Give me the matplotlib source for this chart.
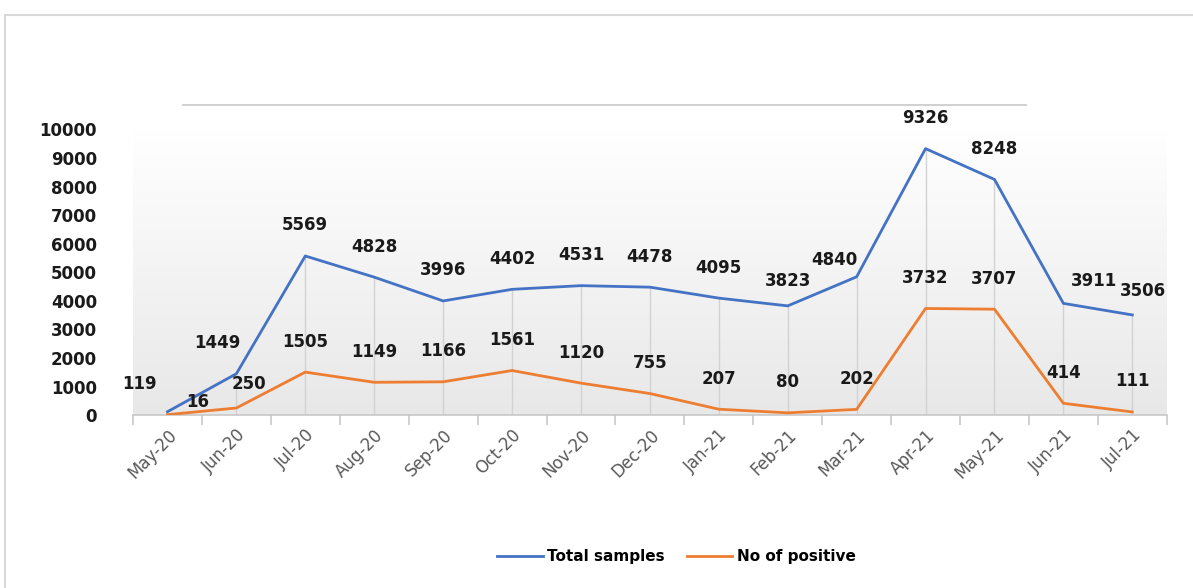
import numpy as np
import matplotlib.pyplot as plt
from matplotlib.colors import LinearSegmentedColormap
from matplotlib.lines import Line2D
from matplotlib.patches import Rectangle

months = ["May-20", "Jun-20", "Jul-20", "Aug-20", "Sep-20", "Oct-20", "Nov-20",
          "Dec-20", "Jan-21", "Feb-21", "Mar-21", "Apr-21", "May-21", "Jun-21", "Jul-21"]
total_samples = [119, 1449, 5569, 4828, 3996, 4402, 4531, 4478, 4095, 3823,
                 4840, 9326, 8248, 3911, 3506]
no_positive = [16, 250, 1505, 1149, 1166, 1561, 1120, 755, 207, 80,
               202, 3732, 3707, 414, 111]

# label offsets in points (dx, dy) where the default "above" would collide
total_off = {0: (-20, 20), 1: (-14, 22), 9: (0, 18), 10: (-16, 12), 13: (22, 16), 14: (8, 17)}
pos_off = {0: (22, 9), 1: (9, 17), 13: (0, 22), 14: (0, 22)}

BLUE = "#4472C4"
ORANGE = "#ED7D31"
FAM = ["DejaVu Sans Condensed", "DejaVu Sans"]
LBL = dict(fontsize=12, fontweight="bold", color="#1a1a1a", family=FAM)

fig = plt.figure(figsize=(11.93, 5.88), dpi=100)
ax = fig.add_axes([0.1115, 0.294, 0.8665, 0.486])

x = np.arange(len(months))
ax.set_xlim(-0.5, len(months) - 0.5)
ax.set_ylim(0, 10000)

# plot area: grey at the bottom fading to white at the top
grad_cmap = LinearSegmentedColormap.from_list("plotarea", ["#e8e8e8", "#ffffff"])
ax.imshow(np.linspace(0, 1, 256).reshape(-1, 1),
          extent=[-0.5, len(months) - 0.5, 0, 10000],
          aspect="auto", origin="lower", cmap=grad_cmap, zorder=0)

# drop lines
tops = np.maximum(total_samples, no_positive)
ax.vlines(x, 0, tops, color="#d2d2d2", lw=1.0, zorder=1)

ax.plot(x, total_samples, color=BLUE, lw=2.0, zorder=3, label="Total samples")
ax.plot(x, no_positive, color=ORANGE, lw=2.0, zorder=3, label="No of positive")

for i, v in enumerate(total_samples):
    dx, dy = total_off.get(i, (0, 22))
    ax.annotate(str(v), (i, v), xytext=(dx, dy), textcoords="offset points",
                ha="center", va="center", zorder=4, **LBL)
for i, v in enumerate(no_positive):
    dx, dy = pos_off.get(i, (0, 22))
    ax.annotate(str(v), (i, v), xytext=(dx, dy), textcoords="offset points",
                ha="center", va="center", zorder=4, **LBL)

for s in ["top", "right", "left"]:
    ax.spines[s].set_visible(False)
ax.spines["bottom"].set_color("#c8c8c8")
ax.spines["bottom"].set_linewidth(1.2)

ax.set_yticks(np.arange(0, 10001, 1000))
ax.set_yticklabels([str(v) for v in range(0, 10001, 1000)], **LBL)
ax.tick_params(axis="y", length=0, pad=26)

ax.set_xticks(x)
ax.set_xticklabels(months, rotation=45, ha="right", rotation_mode="anchor",
                   fontsize=12, color="#595959")
ax.tick_params(axis="x", length=0, pad=8)
ax.set_xticks(np.arange(-0.5, len(months), 1), minor=True)
ax.tick_params(axis="x", which="minor", length=7, color="#c8c8c8", width=1.2)

fig.legend(handles=[Line2D([], [], color=BLUE, lw=2),
                    Line2D([], [], color=ORANGE, lw=2)],
           labels=["Total samples", "No of positive"],
           loc="center", bbox_to_anchor=(0.567, 0.053), ncol=2, frameon=False,
           handlelength=3.0, columnspacing=1.4, handletextpad=0.3,
           prop=dict(size=11, weight="bold", family=FAM))

# outer chart frame and top rule
fig.add_artist(Rectangle((0.004, -0.1), 1.2, 1.075, transform=fig.transFigure,
                         fill=False, ec="#d9d9d9", lw=1.5))
fig.add_artist(Line2D([0.153, 0.860], [0.821, 0.821], transform=fig.transFigure,
                      color="#c8c8c8", lw=1.2))

fig.savefig("out.png", dpi=100)
